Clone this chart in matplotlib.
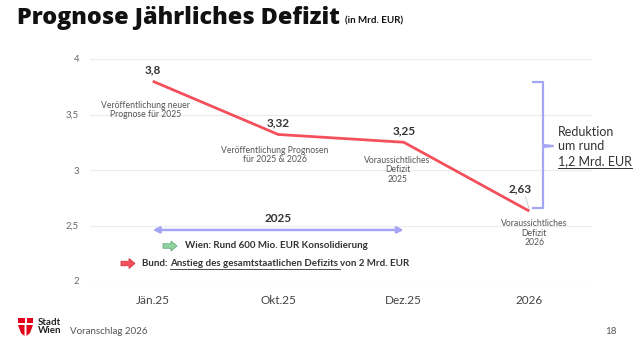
import matplotlib
matplotlib.use("Agg")
import matplotlib.pyplot as plt
from matplotlib.patches import Polygon, FancyArrow
from matplotlib.lines import Line2D

plt.rcParams['font.family'] = ['Lato', 'DejaVu Sans']

# ---- data ----
categories = ["Jän.25", "Okt.25", "Dez.25", "2026"]
deficit = [3.8, 3.32, 3.25, 2.63]
value_labels = ["3,8", "3,32", "3,25", "2,63"]
ytick_vals = [2, 2.5, 3, 3.5, 4]
ytick_labels = ["2", "2,5", "3", "3,5", "4"]
notes = ["Veröffentlichung neuer\nPrognose für 2025",
         "Veröffentlichung Prognosen\nfür 2025 & 2026",
         "Voraussichtliches\nDefizit\n2025",
         "Voraussichtliches\nDefizit\n2026"]

W, H = 640, 342
fig = plt.figure(figsize=(6.4, 3.42), dpi=100)
fig.patch.set_facecolor("white")

def fx(x):
    return x / W

def fy(y):
    return 1 - y / H

ax = fig.add_axes([fx(90), fy(281), fx(592) - fx(90), fy(59) - fy(281)])
ax.set_xlim(-0.5, 3.5)
ax.set_ylim(2, 4)
for s in ax.spines.values():
    s.set_visible(False)
ax.set_yticks(ytick_vals)
ax.set_yticklabels(ytick_labels, fontsize=6.8, color="#666666")
ax.set_xticks(range(len(categories)))
ax.set_xticklabels(categories, fontsize=8.5, color="#444444")
ax.tick_params(axis="both", length=0)
ax.tick_params(axis="y", pad=8)
ax.tick_params(axis="x", pad=10)
ax.grid(axis="y", color="#ececec", lw=0.8)
ax.set_axisbelow(True)

red = "#f4505c"
x = list(range(len(categories)))
ax.plot(x, deficit, color=red, lw=2.0, solid_capstyle="butt", zorder=3)

# value labels
offsets = [(0, 0.1), (0, 0.105), (0, 0.10), (-0.07, 0.20)]
for i, (v, lab) in enumerate(zip(deficit, value_labels)):
    dx, dy = offsets[i]
    ax.text(i + dx, v + dy, lab, ha="center", va="center", fontsize=8.5,
            fontweight="bold", color="#333333")
# leader line for last label
ax.plot([2.97, 3.0], [2.76, 2.645], color="#bbbbbb", lw=0.5)

# notes
note_pos = [(-0.06, 3.54), (0.97, 3.135), (1.95, 3.0), (3.04, 2.43)]
for (nx, ny), t in zip(note_pos, notes):
    ax.text(nx, ny, t, ha="center", va="center", fontsize=6.2,
            color="#555555", linespacing=1.1)

# 2025 double arrow
lav = "#a5a5f5"
ax.annotate("", xy=(2.0, 2.46), xytext=(0.0, 2.46),
            arrowprops=dict(arrowstyle="<|-|>", color=lav, lw=1.8,
                            mutation_scale=9, shrinkA=0, shrinkB=0))
ax.text(1.0, 2.56, "2025", ha="center", va="center", fontsize=8.5,
        fontweight="bold", color="#333333")

# brace (pixel coords)
bx, by0, by1, bym = 543, 82, 208, 146
brace = Line2D([fx(533), fx(bx), fx(bx), fx(553), fx(bx), fx(bx), fx(533)],
               [fy(by0), fy(by0), fy(bym - 1), fy(bym), fy(bym + 1), fy(by1), fy(by1)],
               transform=fig.transFigure, color=lav, lw=1.6)
fig.add_artist(brace)

fig.text(fx(558), fy(132), "Reduktion", fontsize=9, color="#333333", va="center")
fig.text(fx(558), fy(146.5), "um rund", fontsize=9, color="#333333", va="center")
t3 = fig.text(fx(558), fy(161), "1,2 Mrd. EUR", fontsize=9, color="#333333", va="center")

# icons arrows
def block_arrow(x0, y0, color, edge):
    a = FancyArrow(fx(x0), fy(y0), fx(14), 0, width=fy(0) - fy(4.5),
                   head_width=fy(0) - fy(10), head_length=fx(6),
                   length_includes_head=True, transform=fig.transFigure,
                   facecolor=color, edgecolor=edge, lw=0.6)
    fig.add_artist(a)

block_arrow(163, 246, "#8fd4a0", "#6aa87a")
block_arrow(121, 263.5, "#f4505c", "#d03a46")

fig.text(fx(185), fy(246), "Wien: Rund 600 Mio. EUR Konsolidierung", fontsize=7,
         fontweight="bold", color="#333333", va="center")
tb1 = fig.text(fx(142), fy(263.5), "Bund: ", fontsize=7, fontweight="bold",
               color="#333333", va="center")

fig.canvas.draw()
r = fig.canvas.get_renderer()
e = tb1.get_window_extent(r)
tb2 = fig.text(e.x1 / fig.bbox.width, fy(263.5), "Anstieg des gesamtstaatlichen Defizits",
               fontsize=7, fontweight="bold", color="#333333", va="center")
fig.canvas.draw()
e2 = tb2.get_window_extent(r)
tb3 = fig.text(e2.x1 / fig.bbox.width + fx(2.5), fy(263.5), "von 2 Mrd. EUR",
               fontsize=7, color="#333333", va="center", fontweight="bold")
fig.add_artist(Line2D([e2.x0 / fig.bbox.width, e2.x1 / fig.bbox.width + fx(2)],
                      [e2.y0 / fig.bbox.height - 0.002] * 2,
                      transform=fig.transFigure, color="#333333", lw=0.6))
e3 = t3.get_window_extent(r)
fig.add_artist(Line2D([e3.x0 / fig.bbox.width, e3.x1 / fig.bbox.width],
                      [e3.y0 / fig.bbox.height - 0.003] * 2,
                      transform=fig.transFigure, color="#333333", lw=0.7))

# title
tt = fig.text(fx(17), fy(18), "Prognose Jährliches Defizit", fontsize=16.8,
              family=["Open Sans", "DejaVu Sans"], fontweight="heavy",
              color="#111111", va="center")
fig.canvas.draw()
et = tt.get_window_extent(r)
fig.text(et.x1 / fig.bbox.width + fx(5), fy(21), "(in Mrd. EUR)", fontsize=7,
         fontweight="bold", color="#111111", va="center")

# footer logo
logo_red = "#e3001b"
fig.add_artist(Polygon([(fx(18), fy(318)), (fx(24.5), fy(318)), (fx(24.5), fy(323)), (fx(18), fy(323))],
                       closed=True, transform=fig.transFigure, facecolor=logo_red, edgecolor="none"))
fig.add_artist(Polygon([(fx(26.5), fy(318)), (fx(33), fy(318)), (fx(33), fy(323)), (fx(26.5), fy(323))],
                       closed=True, transform=fig.transFigure, facecolor=logo_red, edgecolor="none"))
fig.add_artist(Polygon([(fx(18), fy(325)), (fx(24.5), fy(325)), (fx(24.5), fy(336)), (fx(21), fy(333))],
                       closed=True, transform=fig.transFigure, facecolor=logo_red, edgecolor="none"))
fig.add_artist(Polygon([(fx(26.5), fy(325)), (fx(33), fy(325)), (fx(30), fy(333)), (fx(26.5), fy(336))],
                       closed=True, transform=fig.transFigure, facecolor=logo_red, edgecolor="none"))
fig.text(fx(38), fy(326.5), "Stadt\nWien", fontsize=7, fontweight="bold", color="#222222",
         va="center", linespacing=0.95)
fig.text(fx(70), fy(332), "Voranschlag 2026", fontsize=7, color="#555555", va="center")
fig.text(fx(617), fy(332), "18", fontsize=7, color="#555555", va="center", ha="right")

fig.savefig("out.png", dpi=100, facecolor="white")
